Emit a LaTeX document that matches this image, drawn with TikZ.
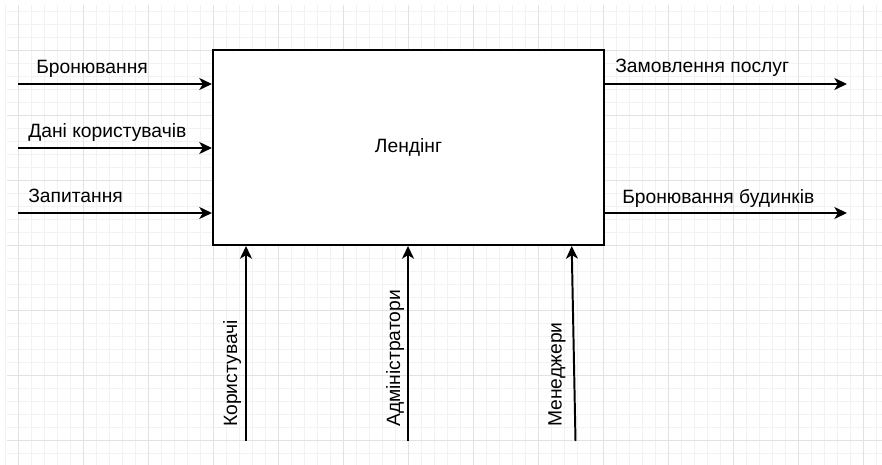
\documentclass[tikz,border=0pt]{standalone}
\usepackage{fontspec}
\setmainfont{Liberation Sans}
\usetikzlibrary{arrows.meta}
\definecolor{gridminor}{HTML}{F2F2F2}
\definecolor{gridmajor}{HTML}{E2E2E2}
\begin{document}
\begin{tikzpicture}[x=0.025cm,y=-0.025cm,
    flow/.style={line width=1.4pt,-{Stealth[length=9pt,width=8.5pt,inset=2.5pt]}},
    lbl/.style={font=\fontsize{13.7}{16}\selectfont,inner sep=0pt},
    ]
    \useasboundingbox (0,0) rectangle (882,465);

    % Drawing minor grid lines
    \foreach \gi in {0,...,67} {
        \draw [gridminor,line width=0.7pt] ({5.3+13*\gi},5) -- ({5.3+13*\gi},465);
    }
    \foreach \gi in {0,...,34} {
        \draw [gridminor,line width=0.7pt] (7,{11+13*\gi}) -- (882,{11+13*\gi});
    }

    % Drawing major grid lines
    \foreach \gi in {0,...,13} {
        \draw [gridmajor,line width=0.7pt] ({18.3+65*\gi},5) -- ({18.3+65*\gi},465);
    }
    \foreach \gi in {0,...,6} {
        \draw [gridmajor,line width=0.7pt] (7,{50+65*\gi}) -- (882,{50+65*\gi});
    }

    % Drawing box Лендінг
    \node [draw,line width=1.4pt,fill=white,minimum width=9.775cm,minimum height=4.875cm,lbl]
        (landing) at (408.5,147.5) {Лендінг};

    % Free ends of the arrows
    \coordinate (inBook) at (18,84);
    \coordinate (inUser) at (18,148);
    \coordinate (inAsk) at (18,213);
    \coordinate (outOrder) at (847,84);
    \coordinate (outHouse) at (847,213);
    \coordinate (ctlUsers) at (246,441);
    \coordinate (ctlAdmin) at (408,441);
    \coordinate (ctlMgr) at (575.5,441);

    % Drawing inputs
    \draw [flow] (inBook) -- (inBook -| landing.west);
    \draw [flow] (inUser) -- (inUser -| landing.west);
    \draw [flow] (inAsk) -- (inAsk -| landing.west);

    % Drawing outputs
    \draw [flow] (outOrder -| landing.east) -- (outOrder);
    \draw [flow] (outHouse -| landing.east) -- (outHouse);

    % Drawing mechanisms
    \draw [flow] (ctlUsers) -- (ctlUsers |- landing.south);
    \draw [flow] (ctlAdmin) -- (ctlAdmin |- landing.south);
    \draw [flow] (ctlMgr) -- (571.7,0 |- landing.south);

    % Marking labels
    \node [lbl,anchor=base west] (lBook) at (36,73.5) {Бронювання};
    \node [lbl,anchor=base west] (lUser) at (28,137.5) {Дані користувачів};
    \node [lbl,anchor=base west] (lAsk) at (28,202.5) {Запитання};
    \node [lbl,anchor=base west] (lOrder) at (615,72.5) {Замовлення послуг};
    \node [lbl,anchor=base west] (lHouse) at (622,203.5) {Бронювання будинків};
    \node [lbl,rotate=90,anchor=base west] (lUsers) at (237,427) {Користувачі};
    \node [lbl,rotate=90,anchor=base west] (lAdmin) at (400,427) {Адміністратори};
    \node [lbl,rotate=90,anchor=base west] (lMgr) at (561.5,427) {Менеджери};
\end{tikzpicture}
\end{document}
